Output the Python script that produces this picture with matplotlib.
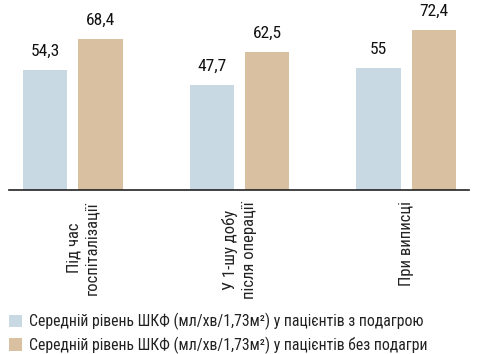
import numpy as np
import matplotlib
matplotlib.use('Agg')
import matplotlib.pyplot as plt
from matplotlib.patches import Patch
import matplotlib.transforms as mtransforms

plt.rcParams['font.family'] = ['Roboto Condensed', 'DejaVu Sans']

categories = ['Під час\nгоспіталізації', 'У 1-шу добу\nпісля операції', 'При виписці']
gout = [54.3, 47.7, 55]
no_gout = [68.4, 62.5, 72.4]
series_names = ['Середній рівень ШКФ (мл/хв/1,73м²) у пацієнтів з подагрою',
                'Середній рівень ШКФ (мл/хв/1,73м²) у пацієнтів без подагри']
colors = ['#c8d9e3', '#d9c0a0']

fig = plt.figure(figsize=(4.78, 3.54), dpi=100)
ax = fig.add_axes([9/478, 164/354, 460/478, 190/354])

x = np.arange(len(categories))
w = 0.265
off = 0.166
b1 = ax.bar(x - off, gout, w, color=colors[0])
b2 = ax.bar(x + off, no_gout, w, color=colors[1])

for bars, vals in ((b1, gout), (b2, no_gout)):
    for b, v in zip(bars, vals):
        ax.annotate('{:g}'.format(v).replace('.', ','),
                    (b.get_x() + b.get_width() / 2, v),
                    xytext=(0, 8), textcoords='offset points',
                    ha='center', va='bottom', fontsize=12.5, color='#111111')

ax.set_xlim(-0.383, 2.377)
ax.set_ylim(0, 86)
for s in ['top', 'right', 'left']:
    ax.spines[s].set_visible(False)
ax.spines['bottom'].set_linewidth(1.2)
ax.spines['bottom'].set_color('#222222')
ax.set_yticks([])
ax.set_xticks(x)
ax.set_xticklabels(categories, rotation=90, fontsize=12, color='#222222',
                   linespacing=1.3, ha='center', va='top')
ax.tick_params(axis='x', length=0, pad=8)
# first label sits a bit to the right in the original
lbl = ax.get_xticklabels()[0]
lbl.set_transform(lbl.get_transform() + mtransforms.ScaledTranslation(10/100, 0, fig.dpi_scale_trans))

handles = [Patch(facecolor=c, edgecolor='none') for c in colors]
fig.legend(handles, series_names, loc='upper left', bbox_to_anchor=(0.012, 44/354),
           frameon=False, fontsize=11.3, handlelength=0.85, handleheight=0.85,
           handletextpad=0.45, labelspacing=0.38, borderaxespad=0, borderpad=0.2,
           labelcolor='#222222')

fig.savefig('out.png', dpi=100)
